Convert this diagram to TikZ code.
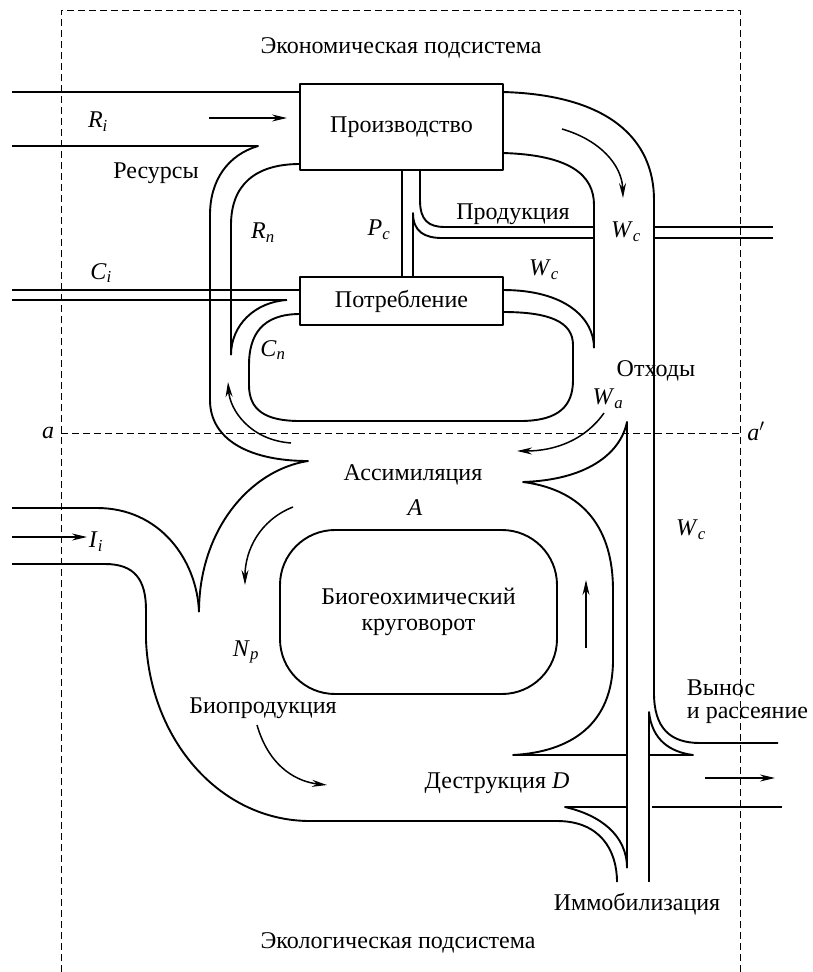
\documentclass[tikz,border=0pt]{standalone}
\usepackage{fontspec}
\setmainfont{Liberation Serif}
\usetikzlibrary{arrows.meta}
\newcommand\vsub[2]{\textit{#1}\textsubscript{\textit{#2}}}
\begin{document}
\begin{tikzpicture}[x=1pt,y=-1pt, line width=1.9pt, line join=round,
  lbl/.style={font=\fontsize{24}{28}\selectfont, inner sep=0pt},
  box/.style={draw, line width=1.9pt, inner sep=0pt, font=\fontsize{24}{28}\selectfont},
  frame/.style={line width=0.9pt, dash pattern=on 7pt off 4pt},
  arr/.style={-{Stealth[length=15pt,width=7pt]}, line width=1.5pt}]
\path[use as bounding box] (0,0) rectangle (812,972);

% frame
\draw[frame] (61,972) -- (61,10) -- (740,10) -- (740,972);
\draw[frame] (61,433) -- (740,433);

% boxes
\node[box, minimum width=203pt, minimum height=86pt] (prod) at (401.5,127) {Производство};
\node[box, minimum width=203pt, minimum height=48pt] (potr) at (401.5,301) {Потребление};
\node[draw, line width=1.9pt, rounded corners=55pt, minimum width=277pt, minimum height=164pt,
      align=center, font=\fontsize{24}{26}\selectfont] (bgc) at (418.5,612) {Биогеохимический\\круговорот};

% resources channel
\draw (12,92) -- (300,92);
\draw (12,146) -- (258,146) .. controls (228,155) and (210,180) .. (210,215) -- (210,400)
      .. controls (210,440) and (250,461) .. (308,461)
      .. controls (250,470) and (199,530) .. (199,612);
\draw (12,508) -- (97,508) .. controls (160,508) and (197,560) .. (199,612);
\draw (300,164) .. controls (255,164) and (231,185) .. (231,225) -- (231,355);
\draw (287,300) .. controls (255,302) and (231,325) .. (231,355);
% consumption input
\draw (12,290) -- (300,290);
\draw (12,300) -- (287,300);
% Cn loop
\draw (300,314) .. controls (262,314) and (249,335) .. (249,365) -- (249,385)
      .. controls (249,410) and (265,421) .. (300,421) -- (520,421)
      .. controls (560,421) and (573,405) .. (573,380) -- (573,345)
      .. controls (573,322) and (550,312) .. (503,312);
% waste from consumption
\draw (503,290) .. controls (565,290) and (594,318) .. (594,348);
\draw (503,153) .. controls (570,155) and (594,175) .. (594,205) -- (594,348);
% production outer
\draw (503,92) .. controls (610,95) and (654,140) .. (654,200) -- (654,693)
      .. controls (654,728) and (670,743) .. (700,743) -- (778,743);
% Pc and products
\draw (402,170) -- (402,277);
\draw (413,277) -- (413,213) .. controls (413,232) and (425,238) .. (442,238) -- (594,238);
\draw (420,170) -- (420,200) .. controls (420,220) and (428,227) .. (445,227) -- (594,227);
\draw (654,227) -- (773,227);
\draw (654,238) -- (773,238);
% assimilation / destruction
\draw (627,868) -- (627,422) .. controls (620,455) and (585,480) .. (523,482)
      .. controls (585,490) and (613,530) .. (613,590) -- (613,660)
      .. controls (613,725) and (570,752) .. (513,755) -- (627,755);
\draw (649,755) -- (649,712) .. controls (652,740) and (670,752) .. (693,755) -- (649,755);
\draw[line width=2.6pt] (649,755) -- (649,882);
\draw (652,807) -- (782,807);
\draw (627,807) -- (565,807) .. controls (600,815) and (627,835) .. (627,868);
% bio channel outer
\draw (12,564) -- (105,564) .. controls (135,564) and (146,580) .. (146,610) -- (146,640)
      .. controls (150,740) and (220,821) .. (310,821) -- (557,821)
      .. controls (600,821) and (617,850) .. (617,882);

% arrows
\draw[arr] (209,118) -- (287,118);
\draw[arr] (12,537) -- (87,537);
\draw[arr] (562,129) .. controls (600,140) and (622,165) .. (623,198);
\draw[arr] (604,413) .. controls (585,440) and (555,451) .. (517,451);
\draw[arr] (291,443) .. controls (250,440) and (230,410) .. (228,382);
\draw[arr] (293,507) .. controls (260,520) and (245,550) .. (245,585);
\draw[arr] (586,648) -- (586,580);
\draw[arr] (257,725) .. controls (270,770) and (300,782) .. (327,785);
\draw[arr] (705,778) -- (775,778);

% labels
\node[lbl] (econ) at (401,48) {Экономическая подсистема};
\node[lbl] (ecol) at (398,943) {Экологическая подсистема};
\node[lbl] (ri) at (98,122) {\vsub{R}{i}};
\node[lbl] (res) at (156,173) {Ресурсы};
\node[lbl] (rn) at (263,233) {\vsub{R}{n}};
\node[lbl] (pc) at (379,230) {\vsub{P}{c}};
\node[lbl] (prd) at (513,214) {Продукция};
\node[lbl] (wc1) at (626,232) {\vsub{W}{c}};
\node[lbl] (wc2) at (544,270) {\vsub{W}{c}};
\node[lbl] (ci) at (101,273) {\vsub{C}{i}};
\node[lbl] (cn) at (273,350) {\vsub{C}{n}};
\node[lbl] (otx) at (656,371) {Отходы};
\node[lbl] (wa) at (608,399) {\vsub{W}{a}};
\node[lbl] (a1) at (48,433) {\textit{a}};
\node[lbl] (a2) at (756,431) {\textit{a}$'$};
\node[lbl] (ass) at (413,475) {Ассимиляция};
\node[lbl] (aa) at (415,508) {\textit{A}};
\node[lbl] (wc3) at (691,530) {\vsub{W}{c}};
\node[lbl] (ii) at (96,542) {\vsub{I}{i}};
\node[lbl] (np) at (246,652) {\vsub{N}{p}};
\node[lbl] (bio) at (263,708) {Биопродукция};
\node[lbl] (des) at (497,783) {Деструкция \textit{D}};
\node[lbl, anchor=west] (vyn) at (686,688) {Вынос};
\node[lbl, anchor=west] (ras) at (686,715) {и рассеяние};
\node[lbl] (imm) at (637,904) {Иммобилизация};
\end{tikzpicture}
\end{document}
